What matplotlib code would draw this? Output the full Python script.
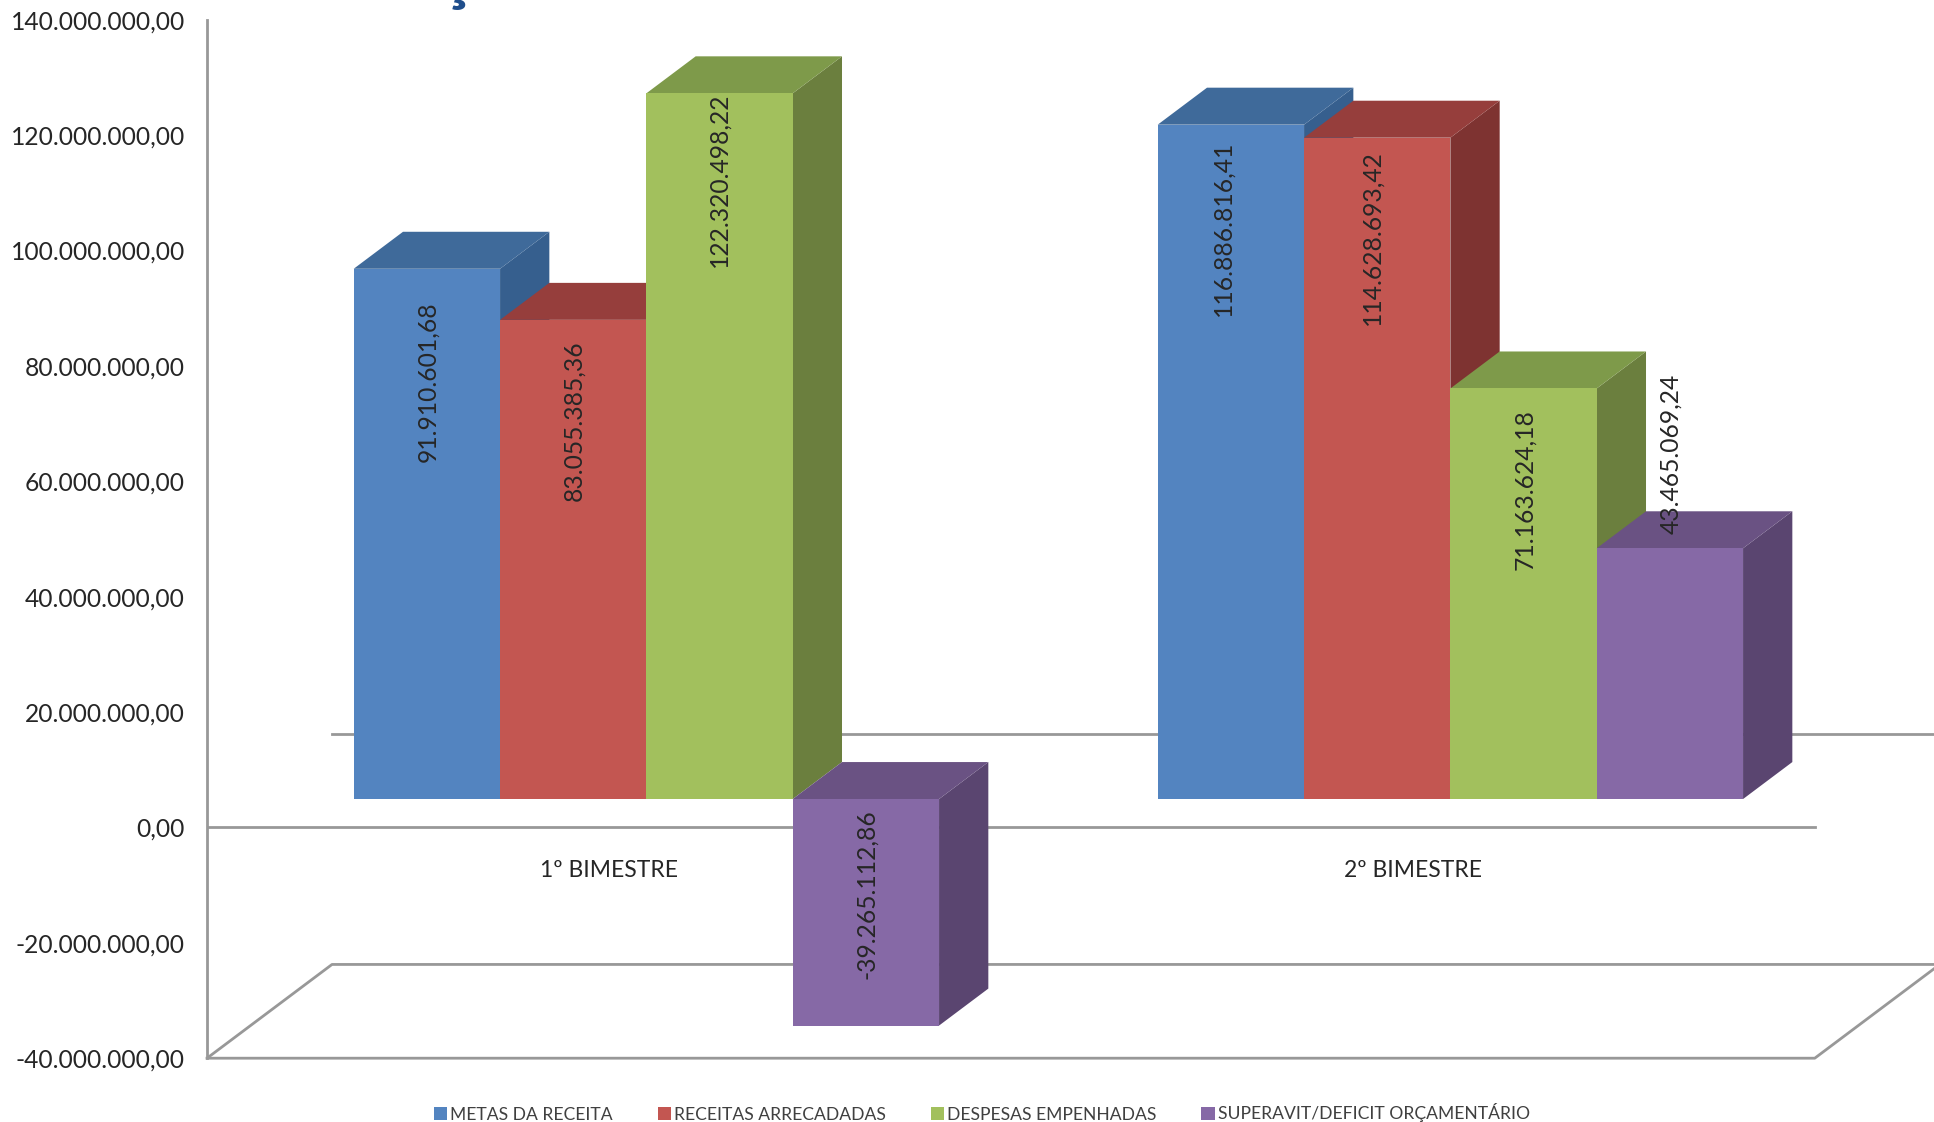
import matplotlib
matplotlib.use('Agg')
import matplotlib.pyplot as plt
from matplotlib.patches import Patch

categorias = ['1º BIMESTRE', '2º BIMESTRE']
series = ['METAS DA RECEITA', 'RECEITAS ARRECADADAS', 'DESPESAS EMPENHADAS', 'SUPERAVIT/DEFICIT ORÇAMENTÁRIO']
metas = [91910601.68, 116886816.41]
receitas = [83055385.36, 114628693.42]
despesas = [122320498.22, 71163624.18]
superavit = [-39265112.86, 43465069.24]
valores = [metas, receitas, despesas, superavit]
y_ticks = [-40e6, -20e6, 0, 20e6, 40e6, 60e6, 80e6, 100e6, 120e6, 140e6]

# front face, top face, side face
cores = [('#5384C0', '#3F6A9A', '#365F8E'),
         ('#C35651', '#963E3C', '#7E3331'),
         ('#A2C05D', '#7E9A4A', '#6B7F3E'),
         ('#8669A6', '#6A5283', '#5A4570')]
LINHA = '#989898'
TEXTO = '#262626'

plt.rcParams['font.family'] = ['Lato', 'DejaVu Sans']


def br(v):
    return f'{v:,.2f}'.replace(',', 'X').replace('.', ',').replace('X', '.')


W, H = 1934, 1122
fig = plt.figure(figsize=(W / 100, H / 100), dpi=100)
ax = fig.add_axes([207 / W, 1 - 1058.2 / H, 1 - 207 / W, (1058.2 - 19.7) / H])
ax.set_xlim(-0.546, 1.602)
ax.set_ylim(-40e6, 140e6)

for s in ['top', 'right', 'bottom']:
    ax.spines[s].set_visible(False)
ax.spines['left'].set_color(LINHA)
ax.spines['left'].set_linewidth(2)
ax.set_xticks([])
ax.set_yticks(y_ticks)
ax.set_yticklabels([br(v) for v in y_ticks], fontsize=17.7, color=TEXTO)
ax.tick_params(axis='y', length=0, pad=16)

# 3d look, all in axis units
larg = 0.182
base = 4.92e6
dx, dy = 0.0613, 6.41e6
pdx, pdy = 0.1555, 16.25e6
xfim = 1.4537
desl = 0.0005

# floor and zero plane
ax.plot([-0.546, xfim], [0, 0], color=LINHA, lw=2, zorder=1)
ax.plot([-0.546 + pdx, 1.602], [pdy, pdy], color=LINHA, lw=2, zorder=1)
ax.plot([-0.546, xfim, xfim + pdx], [-40e6, -40e6, -40e6 + pdy], color=LINHA, lw=2, zorder=1, clip_on=False)
ax.plot([-0.546, -0.546 + pdx, 1.602], [-40e6, -40e6 + pdy, -40e6 + pdy], color=LINHA, lw=2, zorder=1)

# label placement: shift from bar centre / top, in px
lab_dx = [[1, 1, -1, 1], [-8, -5, 1, 1]]
lab_off = [[33, 21, -1, 10], [16, 12, 21, -175]]

z = 2
for g in range(len(categorias)):
    for i, serie in enumerate(valores):
        v = serie[g]
        x0 = g + desl + (i - 2) * larg
        x1 = x0 + larg
        y_top = base + max(v, 0)
        y_bot = base + min(v, 0)
        frente, topo, lado = cores[i]
        ax.fill([x1, x1 + dx, x1 + dx, x1], [y_bot, y_bot + dy, y_top + dy, y_top], color=lado, lw=0, zorder=z)
        ax.fill([x0, x0 + dx, x1 + dx, x1], [y_top, y_top + dy, y_top + dy, y_top], color=topo, lw=0, zorder=z + 1)
        ax.bar(x0, y_top - y_bot, bottom=y_bot, width=larg, align='edge', color=frente, lw=0, zorder=z + 2)
        z += 3
        ax.annotate(br(v), xy=(x0 + larg / 2, y_top), xytext=(lab_dx[g][i], -lab_off[g][i]),
                    textcoords='offset pixels', rotation=90, ha='center', va='top',
                    fontsize=17.7, color=TEXTO, zorder=100)

for g, nome in enumerate(categorias):
    ax.text(g - 0.046, -7.5e6, nome, ha='center', va='center', fontsize=16.5, color=TEXTO)

handles = [Patch(facecolor=cores[i][0], label=series[i]) for i in range(4)]
fig.legend(handles=handles, ncol=4, frameon=False, loc='center', bbox_to_anchor=(982 / W, 1 - 1113 / H),
           fontsize=12.6, labelcolor='#404040', handlelength=0.75, handleheight=0.75, handletextpad=0.2,
           columnspacing=2.55, borderpad=0)

# bit of the cut off title
fig.text(456 / W, 1 + 3 / H, 'ç', fontsize=48, fontweight='bold', color='#1F4E8C', ha='center', va='baseline')

fig.savefig('out.png', dpi=100)
